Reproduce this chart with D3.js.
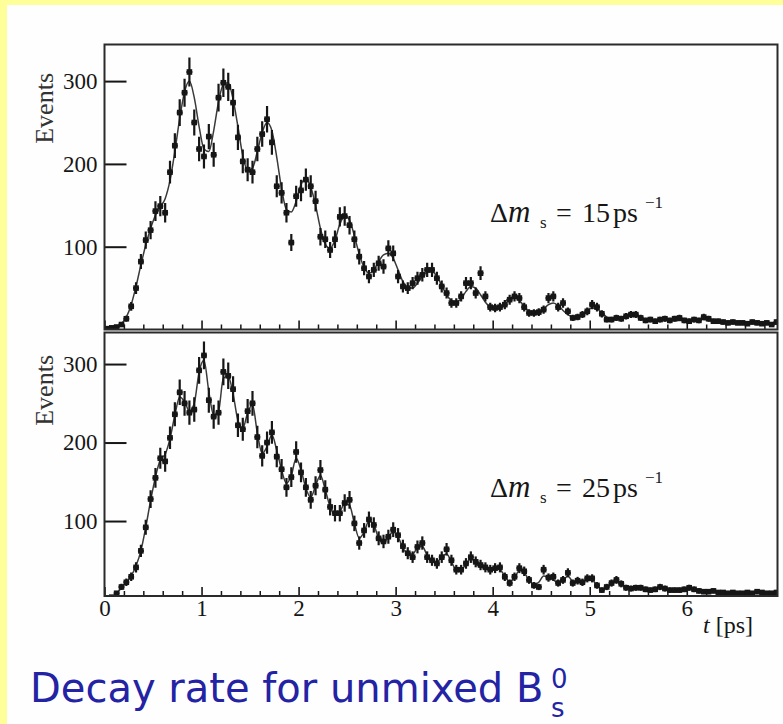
<!DOCTYPE html>
<html>
<head>
<meta charset="utf-8">
<script src="https://cdn.jsdelivr.net/npm/d3@7"></script>
<style>
  html, body { margin: 0; padding: 0; background: #fff; }
  svg { display: block; }
</style>
</head>
<body>
<script>
// Proper-time histograms of B_s decays, 0.05 ps bins starting at t = 0
const binWidth = 0.05;
const xTicks = [0, 1, 2, 3, 4, 5, 6];
const yTicks = [100, 200, 300];
const massDiffs = ["15", "25"];

// Δm_s = 15 ps^-1 : event counts per bin
const topCounts = [
  1, 2, 3, 6, 13, 28, 50, 82, 108, 120,
  143, 149, 141, 190, 222, 262, 286, 311, 250, 218,
  209, 233, 211, 280, 298, 293, 274, 232, 203, 193,
  190, 218, 236, 254, 226, 173, 165, 141, 105, 161,
  168, 181, 173, 155, 112, 109, 96, 109, 136, 137,
  126, 109, 88, 74, 64, 72, 80, 76, 98, 92,
  64, 52, 50, 56, 62, 66, 72, 72, 62, 52,
  44, 32, 32, 40, 56, 56, 44, 68, 40, 27,
  26, 27, 30, 36, 40, 38, 27, 20, 20, 21,
  24, 38, 40, 27, 32, 22, 14, 15, 18, 22,
  30, 27, 19, 12, 12, 14, 13, 16, 18, 18,
  14, 11, 12, 10, 12, 13, 11, 13, 14, 11,
  10, 12, 11, 15, 13, 10, 10, 9, 8, 9,
  8, 8, 7, 9, 8, 7, 8, 6, 9
];
// Δm_s = 15 ps^-1 : fitted rate at the bin centres
const topFit = [
  0, 1, 3, 7, 15, 30, 52, 78, 102, 122,
  138, 148, 158, 180, 215, 255, 287, 300, 280, 245,
  218, 215, 240, 275, 296, 298, 278, 245, 210, 192,
  195, 215, 238, 250, 240, 208, 170, 145, 142, 155,
  175, 182, 172, 150, 122, 103, 98, 108, 127, 137,
  132, 113, 91, 75, 68, 72, 82, 90, 92, 86,
  72, 58, 50, 50, 56, 64, 69, 70, 64, 53,
  42, 35, 33, 37, 46, 52, 50, 42, 33, 27,
  25, 27, 33, 38, 39, 35, 28, 22, 19, 20,
  25, 30, 32, 29, 23, 18, 15, 15, 18, 23,
  26, 25, 20, 15, 12, 12, 14, 17, 18, 17,
  14, 11, 10, 11, 12, 13, 12, 11, 11, 11,
  12, 12, 12, 12, 11, 10, 10, 9, 9, 9,
  9, 8, 8, 8, 8, 8, 8, 7, 7
];

// Δm_s = 25 ps^-1 : event counts per bin
const bottomCounts = [
  2, 3, 8, 16, 22, 29, 41, 62, 92, 128,
  155, 180, 176, 206, 236, 264, 250, 238, 242, 292,
  311, 254, 233, 238, 290, 285, 268, 222, 217, 240,
  250, 207, 183, 200, 213, 182, 166, 143, 156, 188,
  162, 143, 127, 145, 165, 140, 118, 110, 110, 123,
  127, 97, 72, 88, 102, 95, 78, 74, 80, 89,
  82, 68, 59, 54, 67, 72, 54, 50, 46, 54,
  64, 50, 38, 38, 46, 54, 48, 44, 41, 38,
  40, 41, 29, 21, 29, 40, 36, 25, 18, 16,
  38, 28, 29, 21, 25, 34, 21, 24, 22, 27,
  27, 18, 12, 16, 21, 25, 20, 15, 14, 15,
  15, 13, 12, 13, 16, 14, 12, 12, 12, 13,
  15, 13, 11, 10, 10, 11, 9, 9, 8, 9,
  8, 8, 9, 8, 10, 9, 8, 8, 9
];
// Δm_s = 25 ps^-1 : fitted rate at the bin centres
const bottomFit = [
  1, 3, 8, 15, 22, 30, 43, 62, 92, 126,
  156, 178, 185, 205, 235, 258, 252, 240, 250, 290,
  305, 265, 235, 240, 282, 284, 262, 228, 218, 238,
  248, 212, 186, 195, 210, 190, 165, 148, 158, 180,
  165, 142, 130, 145, 158, 140, 118, 108, 112, 122,
  120, 97, 78, 86, 100, 95, 78, 72, 80, 86,
  80, 66, 58, 58, 66, 68, 56, 48, 48, 54,
  58, 48, 38, 38, 45, 52, 46, 41, 40, 39,
  40, 38, 30, 23, 28, 37, 34, 25, 19, 22,
  30, 28, 25, 21, 24, 30, 23, 22, 22, 25,
  25, 18, 13, 15, 20, 22, 19, 15, 14, 15,
  14, 13, 12, 13, 15, 14, 12, 12, 12, 13,
  14, 13, 11, 10, 10, 10, 9, 9, 9, 9,
  8, 8, 9, 8, 9, 9, 8, 8, 8
];

const W = 783, H = 724;
const serif = "'Liberation Serif', 'Times New Roman', serif";
const ink = "#161616";

const svg = d3.select("body").append("svg")
  .attr("width", W).attr("height", H)
  .attr("viewBox", `0 0 ${W} ${H}`);

// slide background with its yellow edge
svg.append("rect").attr("width", W).attr("height", H).attr("fill", "#ffff99");
svg.append("rect").attr("x", 7).attr("y", 5).attr("width", W - 7).attr("height", H - 5).attr("fill", "#fefefe");

const x = d3.scaleLinear().domain([0, 6.935]).range([104.5, 777.5]);
const minorTicks = d3.range(0, 35).map(i => i / 5).filter(v => Math.abs(v - Math.round(v)) > 1e-6 && v < 6.93);

const panels = [
  { counts: topCounts, fit: topFit, dm: massDiffs[0], top: 44.5, bottom: 329.5, ymin: 0, ymax: 344.2,
    titleEnd: 73, annotY: 222, showX: false },
  { counts: bottomCounts, fit: bottomFit, dm: massDiffs[1], top: 332.5, bottom: 596, ymin: 4.5, ymax: 340.2,
    titleEnd: 355, annotY: 497, showX: true }
];

panels.forEach((p, pi) => {
  const y = d3.scaleLinear().domain([p.ymin, p.ymax]).range([p.bottom, p.top]);
  const g = svg.append("g");
  const clipId = "clip" + pi;
  svg.append("clipPath").attr("id", clipId).append("rect")
    .attr("x", x.range()[0]).attr("y", p.top)
    .attr("width", x.range()[1] - x.range()[0]).attr("height", p.bottom - p.top);

  const centre = i => (i + 0.5) * binWidth;
  const plot = g.append("g").attr("clip-path", `url(#${clipId})`);

  // fitted curve
  plot.append("path")
    .datum(p.fit)
    .attr("fill", "none")
    .attr("stroke", "#3a3a3a")
    .attr("stroke-width", 1.5)
    .attr("d", d3.line().x((d, i) => x(centre(i))).y(d => y(d)).curve(d3.curveMonotoneX));

  // data points with statistical error bars and bin-width bars
  const pts = plot.append("g").selectAll("g").data(p.counts).join("g");
  pts.append("line")
    .attr("x1", (d, i) => x(centre(i))).attr("x2", (d, i) => x(centre(i)))
    .attr("y1", d => y(d - Math.sqrt(d))).attr("y2", d => y(d + Math.sqrt(d)))
    .attr("stroke", ink).attr("stroke-width", 2.2);
  pts.append("line")
    .attr("x1", (d, i) => x(centre(i) - binWidth / 2) - 0.5).attr("x2", (d, i) => x(centre(i) + binWidth / 2) + 0.5)
    .attr("y1", d => y(d)).attr("y2", d => y(d))
    .attr("stroke", ink).attr("stroke-width", 2.2);
  pts.append("rect")
    .attr("x", (d, i) => x(centre(i)) - 2.8).attr("y", d => y(d) - 2.8)
    .attr("width", 5.6).attr("height", 5.6)
    .attr("fill", ink);

  // y axis: inward major ticks, serif labels
  const yAxis = g.append("g").attr("transform", `translate(${x.range()[0]},0)`)
    .call(d3.axisLeft(y).tickValues(yTicks).tickSize(-22).tickPadding(7));
  yAxis.select(".domain").remove();
  yAxis.selectAll("line").attr("stroke", ink).attr("stroke-width", 2);
  yAxis.selectAll("text").attr("font-family", serif).attr("font-size", 23).attr("fill", ink);

  // x axis: major and minor inward ticks
  const xMajor = g.append("g").attr("transform", `translate(0,${p.bottom})`)
    .call(d3.axisBottom(x).tickValues(xTicks).tickSize(-9).tickPadding(4)
      .tickFormat(p.showX ? d3.format("d") : () => ""));
  xMajor.select(".domain").remove();
  xMajor.selectAll("line").attr("stroke", ink).attr("stroke-width", 1.6);
  xMajor.selectAll("text").attr("font-family", serif).attr("font-size", 23).attr("fill", ink);

  const xMinor = g.append("g").attr("transform", `translate(0,${p.bottom})`)
    .call(d3.axisBottom(x).tickValues(minorTicks).tickSize(-5).tickFormat(() => ""));
  xMinor.select(".domain").remove();
  xMinor.selectAll("line").attr("stroke", ink).attr("stroke-width", 1.5);

  // frame
  g.append("rect")
    .attr("x", x.range()[0]).attr("y", p.top)
    .attr("width", x.range()[1] - x.range()[0]).attr("height", p.bottom - p.top)
    .attr("fill", "none").attr("stroke", "#2a2a2a").attr("stroke-width", 2);

  // y title
  g.append("text")
    .attr("transform", `translate(53,${p.titleEnd}) rotate(-90)`)
    .attr("text-anchor", "end")
    .attr("font-family", serif).attr("font-size", 26).attr("fill", "#333")
    .text("Events");

  // Δm_s annotation
  const a = g.append("text")
    .attr("y", p.annotY)
    .attr("font-family", serif).attr("font-size", 28).attr("fill", ink);
  a.append("tspan").attr("x", 490).text("Δ");
  a.append("tspan").attr("x", 508).attr("font-style", "italic").attr("font-size", 31).text("m");
  a.append("tspan").attr("x", 540).attr("dy", 6).attr("font-size", 17).text("s");
  a.append("tspan").attr("x", 556).attr("dy", -6).text("=");
  a.append("tspan").attr("x", 582).text(p.dm);
  a.append("tspan").attr("x", 613).text("ps");
  a.append("tspan").attr("x", 645).attr("dy", -14).attr("font-size", 17).text("−1");
});

// x title
const xt = svg.append("text")
  .attr("x", 703).attr("y", 633)
  .attr("font-family", serif).attr("font-size", 24).attr("fill", ink);
xt.append("tspan").attr("font-style", "italic").text("t");
xt.append("tspan").text(" [ps]");

// slide caption
const cap = svg.append("text")
  .attr("x", 30).attr("y", 702)
  .attr("font-family", "'DejaVu Sans', sans-serif").attr("font-size", 40)
  .attr("fill", "#2323a4");
cap.append("tspan").text("Decay rate for unmixed B");
cap.append("tspan").attr("x", 551).attr("dy", -14).attr("font-size", 26).text("0");
cap.append("tspan").attr("x", 551).attr("dy", 29).attr("font-size", 26).text("s");
</script>
</body>
</html>
